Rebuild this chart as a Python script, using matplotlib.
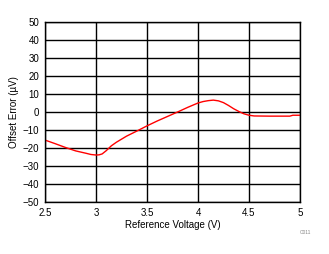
import matplotlib
matplotlib.use("Agg")
import matplotlib.pyplot as plt

voltage = [2.5, 2.6, 2.7, 2.8, 2.9, 2.95, 3.0, 3.03, 3.06, 3.1, 3.15, 3.2, 3.3, 3.4, 3.5, 3.6,
           3.7, 3.8, 3.9, 4.0, 4.05, 4.1, 4.15, 4.2, 4.25, 4.3, 4.35, 4.4, 4.45, 4.5, 4.55, 4.7, 4.9, 4.93, 5.0]
offset = [-15.6, -17.6, -19.7, -21.6, -22.9, -23.6, -23.9, -23.8, -23.3, -21.5, -18.8, -16.8, -13.4,
          -10.6, -7.7, -5.0, -2.5, 0.0, 2.6, 5.0, 5.8, 6.3, 6.6, 6.2, 5.2, 3.6, 1.8, 0.3, -1.0, -1.8, -2.2,
          -2.3, -2.3, -1.8, -1.8]
xticks = [2.5, 3, 3.5, 4, 4.5, 5]
xticklabels = ["2.5", "3", "3.5", "4", "4.5", "5"]
yticks = list(range(-50, 51, 10))

plt.rcParams['font.family'] = ['Liberation Sans', 'DejaVu Sans']
fig = plt.figure(figsize=(3.29, 2.54), dpi=100)
ax = fig.add_axes([45/329, 1 - 202/254, 255/329, 180/254])
ax.plot(voltage, offset, color='#ff0000', lw=1.0)
ax.set_xlim(2.5, 5)
ax.set_ylim(-50, 50)
ax.set_xticks(xticks)
ax.set_xticklabels(xticklabels)
ax.set_yticks(yticks)
ax.grid(True, color='black', lw=1.0)
ax.set_axisbelow(True)
for s in ax.spines.values():
    s.set_linewidth(1.0)
ax.tick_params(length=0, labelsize=7, pad=4)
ax.set_xlabel('Reference Voltage (V)', fontsize=7, labelpad=2)
ax.set_ylabel('Offset Error (µV)', fontsize=7, labelpad=3)
fig.text(305/329, 1 - 233/254, 'C011', fontsize=3.5, color='#888888', ha='center', va='center')
fig.savefig('out.png', dpi=100)
